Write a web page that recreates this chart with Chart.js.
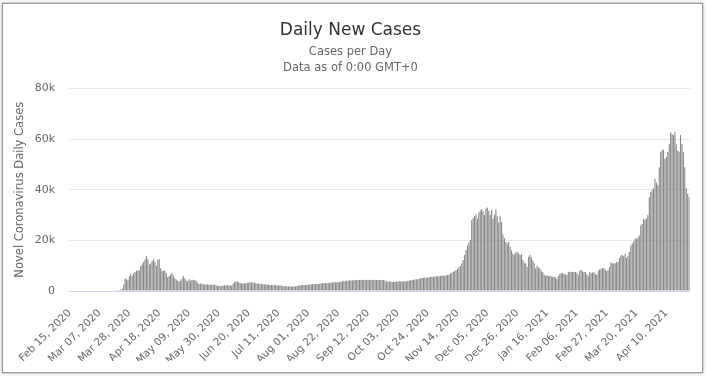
<!DOCTYPE html>
<html>
<head>
<meta charset="utf-8">
<script src="https://cdn.jsdelivr.net/npm/chart.js@4/dist/chart.umd.min.js"></script>
<style>
  html, body { margin: 0; padding: 0; background: #fff; }
  #frame {
    position: absolute; left: 2px; top: 3px; width: 701px; height: 370px;
    box-sizing: border-box; border: 1px solid #9c9c9c;
    box-shadow: 0 0 3px #999;
  }
  #chart { position: absolute; left: 0; top: 0; }
</style>
</head>
<body>
<div id="frame"></div>
<canvas id="chart" width="706" height="377"></canvas>
<script>
const FONT = "'DejaVu Sans', sans-serif";

// first day of the series, one bar per day
const startDate = [2020, 1, 15];
const monthNames = ['Jan', 'Feb', 'Mar', 'Apr', 'May', 'Jun', 'Jul', 'Aug', 'Sep', 'Oct', 'Nov', 'Dec'];
const labelEvery = 21;

// daily new cases (Feb 15, 2020 -> Apr 26, 2021)
const dailyCases = [
  0, 0, 0, 0, 0, 0, 0, 0, 0, 0,
  0, 0, 0, 0, 0, 0, 0, 0, 0, 0,
  0, 0, 0, 0, 0, 0, 0, 0, 0, 0,
  0, 0, 300, 300, 300, 300, 600, 1000, 2600, 5000,
  4600, 4200, 5800, 6800, 6000, 7000, 7500, 8000, 8000, 8200,
  10000, 10500, 11500, 12500, 13800, 12500, 10500, 11000, 11800, 12500,
  11500, 10000, 12300, 12500, 9000, 8000, 8000, 8200, 7000, 5500,
  5800, 6500, 7000, 6000, 5000, 4500, 4000, 3800, 4000, 4800,
  5900, 5000, 4200, 3800, 4600, 4000, 4300, 4400, 4200, 4000,
  3300, 2800, 2900, 3000, 2600, 2700, 2600, 2600, 2500, 2600,
  2400, 2500, 2600, 2300, 2100, 2200, 1900, 2000, 2200, 2300,
  2200, 2400, 2200, 2300, 2100, 2900, 3500, 3900, 3800, 3600,
  3200, 3000, 2900, 3100, 3000, 3300, 3400, 3400, 3500, 3300,
  3400, 3100, 2900, 3000, 2800, 2700, 2800, 2600, 2700, 2600,
  2500, 2400, 2400, 2300, 2400, 2300, 2300, 2200, 2300, 2100,
  2000, 1900, 1900, 1800, 1900, 1800, 1800, 1900, 1800, 1900,
  2000, 2100, 2300, 2400, 2400, 2300, 2400, 2500, 2400, 2600,
  2700, 2800, 2800, 2700, 2900, 2800, 2900, 3000, 3100, 3200,
  3200, 3100, 3300, 3200, 3400, 3500, 3400, 3600, 3500, 3500,
  3600, 3700, 3900, 4000, 3900, 4100, 4000, 4200, 4100, 4100,
  4200, 4300, 4200, 4400, 4300, 4400, 4300, 4400, 4200, 4300,
  4400, 4300, 4400, 4300, 4200, 4400, 4300, 4300, 4400, 4200,
  4300, 4300, 4100, 3800, 3700, 3700, 3800, 3600, 3700, 3700,
  3800, 3700, 3900, 3800, 3900, 3800, 3900, 3900, 4000, 4000,
  4100, 4300, 4400, 4500, 4600, 4600, 4800, 5000, 5100, 5200,
  5300, 5200, 5300, 5400, 5500, 5600, 5500, 5700, 5800, 5700,
  5800, 5900, 6000, 6100, 6000, 6200, 6300, 6400, 6800, 7200,
  7600, 7900, 8300, 8800, 9400, 9900, 10900, 12200, 14200, 16200,
  18100, 19200, 20100, 28000, 28800, 29600, 30200, 28500, 31000, 31800,
  32400, 31500, 30000, 32600, 33000, 31600, 30000, 32000, 28400, 30200,
  32200, 29500, 27000, 29700, 27300, 22300, 20800, 19400, 18800, 19400,
  17500, 16000, 14800, 14400, 15200, 15500, 14800, 14200, 14500, 12200,
  11200, 10900, 9600, 13500, 14200, 13300, 12000, 10900, 8900, 9900,
  9300, 8900, 8000, 7400, 6600, 5900, 6300, 5900, 5900, 5700,
  5600, 5500, 5400, 4700, 5900, 6800, 7000, 7000, 6700, 6500,
  6300, 7400, 7600, 7600, 7500, 7500, 7500, 7200, 6300, 8000,
  8300, 7800, 7400, 7500, 6600, 5900, 7500, 7000, 7200, 7500,
  6800, 6300, 7900, 8500, 8800, 9000, 9100, 8500, 7900, 8300,
  9500, 11400, 10900, 11000, 11000, 11400, 11500, 13000, 14000, 14200,
  13700, 14600, 13000, 14000, 15400, 18000, 18800, 19600, 20600, 20600,
  21000, 21900, 25900, 26500, 28500, 28200, 28600, 30000, 37000, 39000,
  39800, 40600, 44200, 43000, 41800, 48900, 54800, 55600, 55800, 52100,
  53000, 54800, 58000, 62700, 62000, 61600, 62900, 58000, 55400, 55000,
  61600, 58000, 54800, 48900, 40600, 38400, 37000
];

const yTicks = [0, 20000, 40000, 60000, 80000];

// one date label per bar
const categories = [];
for (let i = 0; i < dailyCases.length; i++) {
  const d = new Date(startDate[0], startDate[1], startDate[2] + i);
  const day = String(d.getDate()).padStart(2, '0');
  categories.push(monthNames[d.getMonth()] + ' ' + day + ', ' + d.getFullYear());
}

const ctx = document.getElementById('chart').getContext('2d');
new Chart(ctx, {
  type: 'bar',
  data: {
    labels: categories,
    datasets: [{
      data: dailyCases,
      backgroundColor: '#8a8a8a',
      barPercentage: 0.8,
      categoryPercentage: 1
    }]
  },
  options: {
    responsive: false,
    animation: false,
    layout: { padding: { top: 20, left: 8, right: 13, bottom: 16 } },
    plugins: {
      legend: { display: false },
      tooltip: { enabled: false },
      title: {
        display: true,
        text: 'Daily New Cases',
        color: '#333333',
        font: { family: FONT, size: 17, weight: 'normal' },
        padding: { top: 0, bottom: 4 }
      },
      subtitle: {
        display: true,
        text: ['Cases per Day', 'Data as of 0:00 GMT+0'],
        color: '#666666',
        font: { family: FONT, size: 11.5, lineHeight: 1.35 },
        padding: { top: 0, bottom: 13 }
      }
    },
    scales: {
      x: {
        grid: { display: false },
        border: { color: '#ccd6eb' },
        ticks: {
          autoSkip: false,
          minRotation: 45,
          maxRotation: 45,
          padding: 8,
          color: '#666666',
          font: { family: FONT, size: 10.5 },
          callback: (v, i) => (i % labelEvery === 0 ? categories[i] : '')
        },
        afterFit: (s) => { s.height = 70; }
      },
      y: {
        min: 0,
        max: 80000,
        afterBuildTicks: (s) => { s.ticks = yTicks.map(v => ({ value: v })); },
        ticks: {
          color: '#666666',
          padding: 14,
          font: { family: FONT, size: 11 },
          callback: (v) => (v === 0 ? '0' : v / 1000 + 'k')
        },
        grid: { color: '#e6e6e6', drawTicks: false },
        border: { display: false },
        title: {
          display: true,
          text: 'Novel Coronavirus Daily Cases',
          color: '#666666',
          font: { family: FONT, size: 11.5 },
          padding: { top: 5, bottom: 0 }
        },
        afterFit: (s) => { s.width = 61; }
      }
    }
  }
});
</script>
</body>
</html>
